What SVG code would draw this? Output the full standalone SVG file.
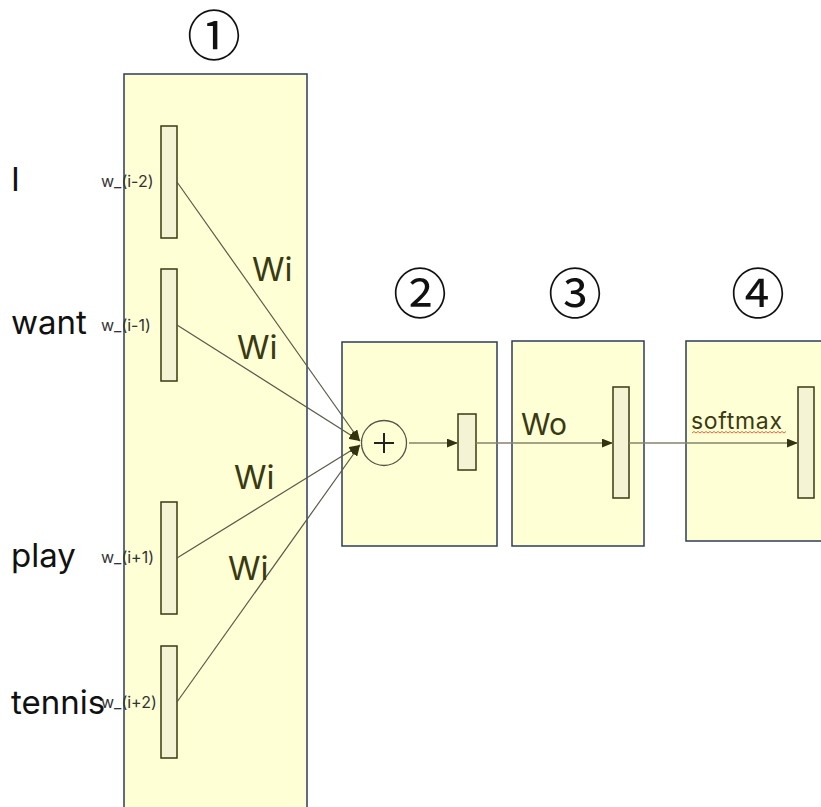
<svg xmlns="http://www.w3.org/2000/svg" width="821" height="807" viewBox="0 0 821 807">
  <style>
    .panel { fill: #ffffd6; stroke: #2e3d5c; stroke-width: 1.5; }
    .vec { fill: #f4f4d4; stroke: #3a3a12; stroke-width: 1.5; }
    .word { font-family: Inter, "Liberation Sans", sans-serif; font-size: 33px; fill: #111; }
    .idx { font-family: Inter, "Liberation Sans", sans-serif; font-size: 16px; fill: #333; }
    .wt { font-family: Inter, "Liberation Sans", sans-serif; font-size: 33px; fill: #3a3a12; }
    .num { font-family: "Noto Sans CJK JP", "Noto Sans", sans-serif; font-size: 54px; fill: #111; text-anchor: middle; }
    .in { fill: none; stroke: #5a5a48; stroke-width: 1.2; }
    .flow { fill: none; stroke: #85856a; stroke-width: 1.5; }
  </style>
  <defs>
    <marker id="arrow" viewBox="0 0 10 8" refX="10" refY="4" markerWidth="11" markerHeight="9" markerUnits="userSpaceOnUse" orient="auto">
      <path d="M0,0 L10,4 L0,8 Z" fill="#33330f"/>
    </marker>
  </defs>

  <!-- stage panels -->
  <g id="panel1">
    <rect class="panel" x="124" y="74" width="183" height="760"/>
    <text class="num" x="214" y="56">①</text>
  </g>
  <g id="panel2">
    <rect class="panel" x="342" y="342" width="155" height="204"/>
    <text class="num" x="420" y="314">②</text>
  </g>
  <g id="panel3">
    <rect class="panel" x="512" y="341" width="132" height="205"/>
    <text class="num" x="575" y="314">③</text>
  </g>
  <g id="panel4">
    <rect class="panel" x="686" y="341" width="160" height="200"/>
    <text class="num" x="758" y="314">④</text>
  </g>

  <!-- context words and their one-hot vectors -->
  <g id="word-i-2">
    <text class="word" x="11" y="191">I</text>
    <text class="idx" x="101" y="187">w_(i-2)</text>
    <rect class="vec" x="161" y="126" width="16" height="112"/>
  </g>
  <g id="word-i-1">
    <text class="word" x="11" y="334">want</text>
    <text class="idx" x="101" y="331">w_(i-1)</text>
    <rect class="vec" x="161" y="269" width="16" height="112"/>
  </g>
  <g id="word-i+1">
    <text class="word" x="11" y="567">play</text>
    <text class="idx" x="101" y="563">w_(i+1)</text>
    <rect class="vec" x="161" y="502" width="16" height="112"/>
  </g>
  <g id="word-i+2">
    <text class="word" x="11" y="714">tennis</text>
    <text class="idx" x="101" y="708">w_(i+2)</text>
    <rect class="vec" x="161" y="646" width="16" height="112"/>
  </g>

  <!-- sum node -->
  <g id="sum">
    <circle cx="384" cy="443" r="22.5" fill="#ffffd6" stroke="#555548" stroke-width="1.3"/>
    <path d="M374,443 H394 M384,433 V453" stroke="#222" stroke-width="2"/>
  </g>

  <!-- hidden, output and softmax vectors -->
  <g id="hidden">
    <rect class="vec" x="458" y="414" width="18" height="56"/>
  </g>
  <g id="output">
    <rect class="vec" x="613" y="387" width="16" height="111"/>
  </g>
  <g id="softmax">
    <rect class="vec" x="798" y="387" width="16" height="111"/>
  </g>

  <!-- connectors -->
  <g id="connectors">
    <path class="in" d="M177,182 L360,441" marker-end="url(#arrow)"/>
    <path class="in" d="M177,325 L360,441" marker-end="url(#arrow)"/>
    <path class="in" d="M177,558 L360,445" marker-end="url(#arrow)"/>
    <path class="in" d="M177,702 L360,445" marker-end="url(#arrow)"/>
    <path class="flow" d="M409,443 H458" marker-end="url(#arrow)"/>
    <path class="flow" d="M476,443 H613" marker-end="url(#arrow)"/>
    <path class="flow" d="M629,443 H798" marker-end="url(#arrow)"/>
  </g>

  <!-- weight labels -->
  <g id="labels">
    <text class="wt" x="252" y="281">Wi</text>
    <text class="wt" x="237" y="359">Wi</text>
    <text class="wt" x="234" y="489">Wi</text>
    <text class="wt" x="228" y="580">Wi</text>
    <text class="wt" x="521" y="435" style="font-size:30px">Wo</text>
    <text class="wt" x="691" y="429" style="font-size:23px" textLength="91" lengthAdjust="spacing">softmax</text>
    <path d="M692,433 l2,-1.5 l2,1.5 l2,-1.5 l2,1.5 l2,-1.5 l2,1.5 l2,-1.5 l2,1.5 l2,-1.5 l2,1.5 l2,-1.5 l2,1.5 l2,-1.5 l2,1.5 l2,-1.5 l2,1.5 l2,-1.5 l2,1.5 l2,-1.5 l2,1.5 l2,-1.5 l2,1.5 l2,-1.5 l2,1.5 l2,-1.5 l2,1.5 l2,-1.5 l2,1.5 l2,-1.5 l2,1.5 l2,-1.5 l2,1.5 l2,-1.5 l2,1.5 l2,-1.5 l2,1.5 l2,-1.5 l2,1.5 l2,-1.5 l2,1.5 l2,-1.5 l2,1.5 l2,-1.5 l2,1.5 l2,-1.5 l2,1.5 l2,-1.5" fill="none" stroke="#e8643c" stroke-width="1"/>
  </g>
</svg>
